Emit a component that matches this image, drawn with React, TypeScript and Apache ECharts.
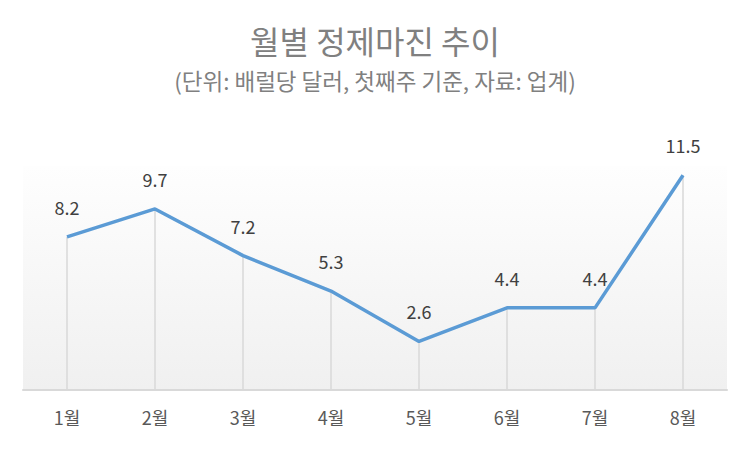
import { useEffect, useRef } from "react";
import * as echarts from "echarts";

const TITLE = "월별 정제마진 추이";
const SUBTITLE = "(단위: 배럴당 달러, 첫째주 기준, 자료: 업계)";
const months = ["1월", "2월", "3월", "4월", "5월", "6월", "7월", "8월"];
const margins = [8.2, 9.7, 7.2, 5.3, 2.6, 4.4, 4.4, 11.5];

const FONT = "'Noto Sans CJK KR', 'Noto Sans', sans-serif";

const App = () => {
  const chartRef = useRef<HTMLDivElement | null>(null);

  useEffect(() => {
    document.body.style.margin = "0";
    if (!chartRef.current) {
      return;
    }
    const instance = echarts.init(chartRef.current, undefined, {
      renderer: "svg",
    });

    const option: echarts.EChartsOption = {
      animation: false,
      backgroundColor: "#ffffff",
      textStyle: { fontFamily: FONT },
      title: {
        text: TITLE,
        subtext: SUBTITLE,
        left: "center",
        top: 19,
        itemGap: 13,
        textStyle: {
          fontFamily: FONT,
          fontSize: 32,
          fontWeight: "normal",
          color: "#808080",
        },
        subtextStyle: {
          fontFamily: FONT,
          fontSize: 22.5,
          color: "#808080",
        },
      },
      grid: {
        left: 23,
        right: 23,
        top: 166,
        bottom: 59,
        show: true,
        borderWidth: 0,
        backgroundColor: new echarts.graphic.LinearGradient(0, 0, 0, 1, [
          { offset: 0, color: "#fefefe" },
          { offset: 1, color: "#f0f0f0" },
        ]),
      },
      xAxis: {
        type: "category",
        data: months,
        boundaryGap: true,
        axisLine: { lineStyle: { color: "#d9d9d9", width: 2 } },
        axisTick: { show: false },
        axisLabel: {
          color: "#595959",
          fontSize: 18,
          margin: 18,
          fontFamily: FONT,
        },
        splitLine: { show: false },
      },
      yAxis: {
        type: "value",
        min: 0,
        max: 12,
        show: false,
        splitLine: { show: false },
      },
      series: [
        {
          type: "bar",
          data: margins,
          barWidth: 1.5,
          itemStyle: { color: "#d9d9d9" },
          silent: true,
          z: 1,
        },
        {
          type: "line",
          data: margins,
          showSymbol: true,
          symbol: "circle",
          symbolSize: 0,
          lineStyle: { width: 3.5, color: "#5b9bd5" },
          itemStyle: { color: "#5b9bd5" },
          z: 2,
          label: {
            show: true,
            position: "top",
            distance: 21,
            color: "#404040",
            fontSize: 18,
            fontFamily: FONT,
          },
        },
      ],
    };

    instance.setOption(option, true);

    return () => {
      instance.dispose();
    };
  }, []);

  return <div ref={chartRef} style={{ width: 750, height: 449 }} />;
};

export default App;
